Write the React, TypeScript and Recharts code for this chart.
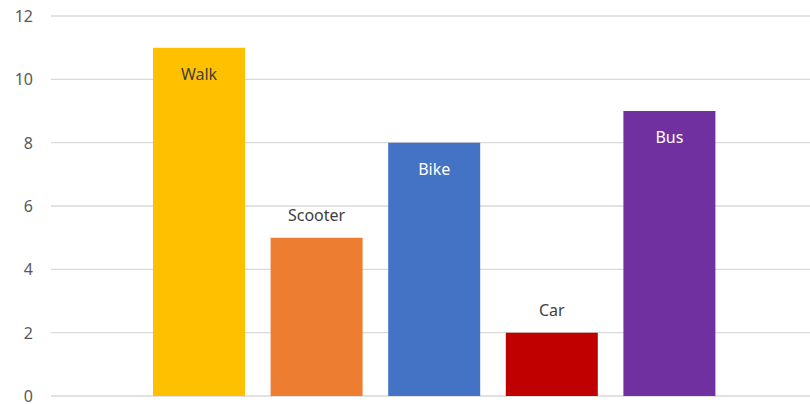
import { BarChart, Bar, XAxis, YAxis, CartesianGrid, Cell, LabelList } from 'recharts'

const modes = ['Walk', 'Scooter', 'Bike', 'Car', 'Bus']
const counts = [11, 5, 8, 2, 9]
const yTicks = [0, 2, 4, 6, 8, 10, 12]

const barColors = ['#FFC000', '#ED7D31', '#4472C4', '#C00000', '#7030A0']
// where each label sits and its colour
const labelInside = [true, false, true, false, true]
const labelColors = ['#404040', '#404040', '#ffffff', '#404040', '#ffffff']

const rows = modes.map((m, i) => ({ mode: m, count: counts[i] }))

const FONT = "'Noto Sans', sans-serif"

function ModeLabel(props: any) {
  const { x, y, width, value, index } = props
  const inside = labelInside[index]
  const cy = inside ? y + 26 : y - 23
  return (
    <text
      x={x + width / 2}
      y={cy}
      textAnchor="middle"
      dominantBaseline="central"
      fill={labelColors[index]}
      fontSize={16}
      fontFamily={FONT}
    >
      {value}
    </text>
  )
}

function YTick(props: any) {
  const { x, y, payload } = props
  return (
    <text
      x={x}
      y={y}
      textAnchor="end"
      dominantBaseline="central"
      fill="#595959"
      fontSize={16}
      fontFamily={FONT}
    >
      {payload.value}
    </text>
  )
}

export default function App() {
  return (
    <div style={{ width: 810, height: 404, background: '#fff', overflow: 'visible' }}>
      <style>{'html,body{margin:0;padding:0;overflow:hidden}'}</style>
      <BarChart
        width={810}
        height={404}
        data={rows}
        margin={{ top: 16, right: 0, bottom: 8, left: 0 }}
        style={{ overflow: 'visible' }}
      >
        <CartesianGrid vertical={false} stroke="#d9d9d9" strokeWidth={1.3} />
        <XAxis dataKey="mode" hide padding={{ left: 89, right: 82 }} />
        <YAxis
          width={51}
          domain={[0, 12]}
          ticks={yTicks}
          interval={0}
          axisLine={false}
          tickLine={false}
          tickSize={0}
          tickMargin={18}
          tick={<YTick />}
        />
        <Bar dataKey="count" barSize={92} isAnimationActive={false}>
          {rows.map((r, i) => (
            <Cell key={r.mode} fill={barColors[i]} />
          ))}
          <LabelList dataKey="mode" content={<ModeLabel />} />
        </Bar>
      </BarChart>
    </div>
  )
}
